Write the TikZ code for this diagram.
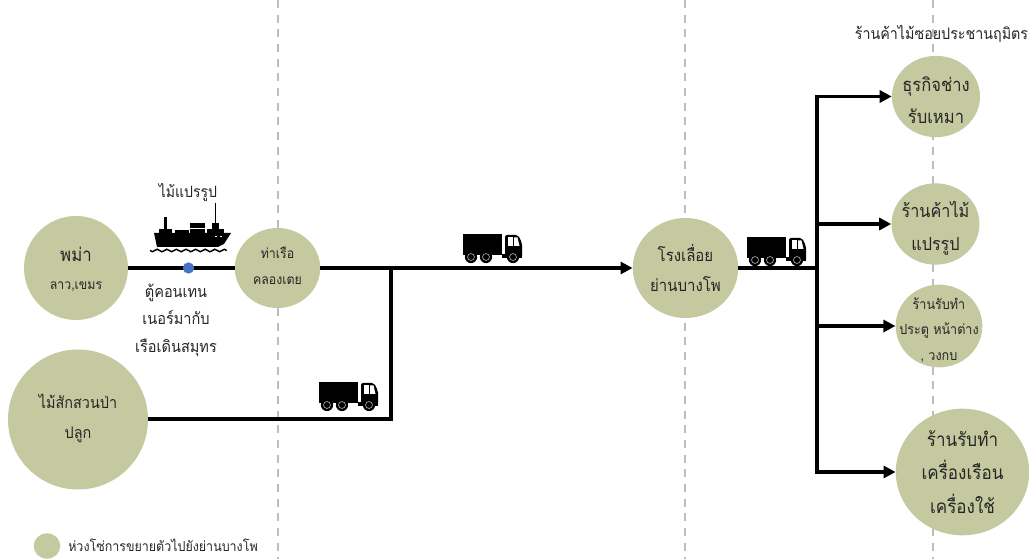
\documentclass[tikz,border=0pt]{standalone}
\usepackage{fontspec}
\newfontfamily\thaifont[Script=Thai,FakeStretch=0.9]{Loma}
\usetikzlibrary{arrows.meta,shapes.geometric}
\definecolor{olivefill}{HTML}{C5C99F}
\definecolor{dashgray}{HTML}{BDBDBD}
\definecolor{dotblue}{HTML}{4472C4}
\newcommand{\fs}[2]{\thaifont\fontsize{#1}{#2}\selectfont}
\begin{document}
\begin{tikzpicture}
    [   x=0.75pt,y=-0.75pt,
        font=\thaifont,
        every label/.style={align=center,text=black!85,inner sep=0pt},
        cnode/.style={fill=olivefill,ellipse,inner sep=0pt},
        tag/.style={align=center,text=black!85,inner sep=0pt},
        flow/.style={line width=2.3pt,black},
        flowarrow/.style={flow,-{Triangle[length=9pt,width=9pt]}},
        guide/.style={dashgray,line width=1pt,dash pattern=on 6pt off 5pt},
        truck/.pic={
            \fill (0,0) rectangle (39,21);
            \fill (39,20) rectangle (59,24);
            \fill[rounded corners=1.5pt] (42,1) -- (55,1) -- (59,9) -- (59,24) -- (42,24) -- cycle;
            \fill[white] (45,3.5) rectangle (50,12);
            \fill[white] (51,3.5) -- (54.5,3.5) -- (56.5,12) -- (51,12) -- cycle;
            \foreach \x in {8,23,50}
            {   \fill[black] (\x,23) circle (4.6pt);
                \draw[gray!70,line width=0.5pt] (\x,23) circle (2.6pt);
            }
        },
    ]
        \useasboundingbox (0,0) rectangle (1029,559);
        % dashed guides
        \foreach \x/\name in {278/a,685/b,933/c}
        {   \coordinate (top-\name) at (\x,0);
            \coordinate (bot-\name) at (\x,559);
            \draw[guide] (top-\name) -- (bot-\name);
        }
        \node[cnode,minimum width=78pt,minimum height=78pt,label={[yshift=-1pt,font=\fs{14}{23}]center:{พม่า\\[-2pt]{\fs{10.3}{14}ลาว,เขมร}}}] (burma) at (76,268) {};
        \node[cnode,minimum width=64pt,minimum height=60pt,label={[yshift=2pt,font=\fs{10.3}{19.5}]center:{ท่าเรือ\\คลองเตย}}] (port) at (277.5,268) {};
        \node[cnode,minimum width=105pt,minimum height=105pt,label={[yshift=1pt,font=\fs{12}{22.5}]center:{ไม้สักสวนป่า\\ปลูก}}] (teak) at (78,419.5) {};
        \node[cnode,minimum width=79pt,minimum height=75pt,label={[font=\fs{12.5}{23}]center:{โรงเลื่อย\\ย่านบางโพ}}] (mill) at (685.5,268) {};
        \node[cnode,minimum width=66pt,minimum height=61pt,label={[yshift=-3pt,font=\fs{13.8}{24}]center:{ธุรกิจช่าง\\รับเหมา}}] (repair) at (936,96.5) {};
        \node[cnode,minimum width=66pt,minimum height=61pt,label={[yshift=-3pt,font=\fs{13.5}{25}]center:{ร้านค้าไม้\\แปรรูป}}] (wood) at (935.5,224) {};
        \node[cnode,minimum width=65pt,minimum height=62pt,label={[yshift=-3pt,font=\fs{10.5}{19.3}]center:{ร้านรับทำ\\ประตู หน้าต่าง\\, วงกบ}}] (door) at (939,326) {};
        \node[cnode,minimum width=100pt,minimum height=95pt,label={[font=\fs{14.2}{25}]center:{ร้านรับทำ\\เครื่องเรือน\\เครื่องใช้}}] (furn) at (962.5,472) {};
        \node[cnode,minimum width=20pt,minimum height=19pt] (legend) at (47,546) {};
        \node[tag,anchor=west,font=\fs{10.4}{12}] (legendtext) at (68,545) {ห่วงโซ่การขยายตัวไปยังย่านบางโพ};
        \node[tag,font=\fs{11.9}{14}] (retail) at (941.5,34) {ร้านค้าไม้ซอยประชานฤมิตร};
        \node[tag,font=\fs{11.7}{14}] (shiplabel) at (188,193) {ไม้แปรรูป};
        \node[tag,font=\fs{12.1}{20.6}] (boxlabel) at (176,320) {ตู้คอนเทน\\เนอร์มากับ\\เรือเดินสมุทร};
        % junctions
        \coordinate (mainjoin) at (391,268);
        \coordinate (teakcorner) at (391,419);
        \coordinate (split) at (817,268);
        \coordinate (splittop) at (817,96.5);
        \coordinate (splitbot) at (817,472);
        \draw[flow] (burma) -- (port);
        \draw[flowarrow] (port) -- (mill);
        \draw[flow] (teak.east |- teakcorner) -- (teakcorner) -- (mainjoin);
        \draw[flow] (mill) -- (split);
        \draw[flow,line cap=rect] (splittop) -- (splitbot);
        \foreach \y/\target in {96.5/repair,224/wood,326/door,472/furn}
        {   \coordinate (from-\target) at (817,\y);
            \draw[flowarrow] (from-\target) -- (\target.west |- from-\target);
        }
        \node[circle,fill=dotblue,minimum size=8.5pt,inner sep=0pt] (box) at (188.5,268) {};
        % ship
        \fill (154,233) -- (231,233) -- (224,244) -- (218,247) -- (157,247) -- cycle;
        \fill (164,217) rectangle (167,229);
        \fill (159,229) rectangle (172,233);
        \fill (175,230) rectangle (189,233);
        \fill (190,223) rectangle (205,233);
        \fill (212,223) rectangle (219,229);
        \fill (207,229) rectangle (224,233);
        \draw[white,line width=0.4pt] (190,228) -- (205,228);
        \fill[white] (215,236) rectangle (217,237.5);
        \fill[white] (220,236) rectangle (222,237.5);
        \coordinate (wavestart) at (150,250.5);
        \draw[line width=1.1pt] (wavestart)
            \foreach \j in {1,...,8} { to[out=-60,in=-120] ++(4.8,0) to[out=60,in=120] ++(4.8,0) };
        \coordinate (masttop) at (215.5,224);
        \coordinate (labeltip) at (215.5,203);
        \draw[line width=0.6pt] (labeltip) -- (masttop);
        % trucks
        \pic at (463,234) {truck};
        \pic at (319,382) {truck};
        \pic at (747,237) {truck};
  \end{tikzpicture}
\end{document}
